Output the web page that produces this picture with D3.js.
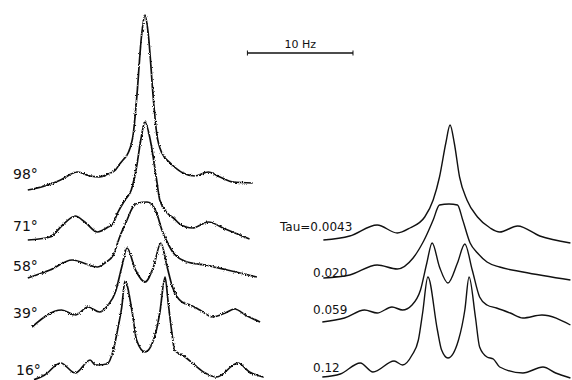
<!DOCTYPE html>
<html><head><meta charset="utf-8">
<script src="https://cdn.jsdelivr.net/npm/d3@7"></script>
<style>body{margin:0;background:#fff}</style>
</head><body>
<svg id="c" width="572" height="380"></svg>
<script>
// ---- data (x in Hz from band centre, intensity in arbitrary units) ----
const tempLabels = ["98°", "71°", "58°", "39°", "16°"];
const tauLabels = ["Tau=0.0043", "0.020", "0.059", "0.12"];
const tempOffsets = [190, 140, 102, 53, 0];
const tauOffsets = [140, 102, 58, 3];
const scaleBarHz = 10;

const exp98 = [[-11.1,0],[-9.5,4],[-8.0,10],[-6.4,18],[-5.2,14],[-4.3,13],[-3.5,16],[-2.8,20],[-2.4,26],[-2.0,31],[-1.6,37],[-1.1,57],[-0.8,90],[-0.3,157],[0,175],[0.3,157],[0.8,90],[1.1,57],[1.6,37],[2.4,27],[3.6,17],[4.7,14],[6.0,18],[7.1,13],[8.3,8],[10.2,7]];
const exp71 = [[-11.1,0],[-9.0,3],[-7.8,15],[-6.6,24],[-5.7,18],[-4.5,8],[-3.5,13],[-3.0,17],[-2.6,27],[-1.9,40],[-1.3,50],[-0.8,73],[-0.4,100],[0,118],[0.5,100],[1.1,60],[1.4,40],[2.1,27],[2.7,22],[3.3,16],[4.5,12],[6.0,18],[7.6,11],[9.9,1]];
const exp58 = [[-11.1,0],[-9.0,8],[-6.9,18],[-4.5,11],[-3.8,15],[-3.0,23],[-2.4,41],[-1.7,58],[-1.2,70],[-0.7,75],[0.2,76],[0.7,73],[1.1,65],[1.6,48],[2.1,36],[2.7,25],[4.0,16],[5.7,13],[7.8,8],[10.6,1]];
const exp39 = [[-10.7,0],[-7.9,17],[-6.6,12],[-5.4,20],[-4.3,15],[-3.5,22],[-2.8,35],[-2.2,60],[-1.7,79],[-0.9,57],[0,45],[0.8,60],[1.5,84],[2.1,60],[2.6,40],[3.5,25],[4.3,22],[5.2,17],[6.4,10],[7.6,14],[8.5,18],[9.5,12],[10.9,5]];
const exp16 = [[-10.6,0],[-9.5,5],[-8.0,17],[-6.6,7],[-5.2,20],[-4.7,15],[-3.6,16],[-3.0,30],[-2.6,50],[-2.2,73],[-1.9,99],[-1.2,67],[-0.8,40],[0,28],[0.9,43],[1.4,67],[1.9,103],[2.2,77],[2.6,43],[2.8,30],[3.8,23],[4.7,15],[5.7,7],[6.8,3],[8.8,17],[9.9,8],[11.2,3]];

const sim0043 = [[-11.9,0],[-9.4,4],[-6.8,15],[-4.9,7],[-3.7,12],[-2.3,23],[-1.5,40],[-0.9,63],[-0.3,97],[0.1,115],[0.5,97],[1.0,63],[1.7,40],[2.7,23],[3.9,12],[4.8,8],[6.5,14],[8.6,4],[11.5,-3]];
const sim020 = [[-11.9,0],[-9.4,3],[-6.8,13],[-4.9,9],[-3.4,20],[-2.4,37],[-1.5,58],[-0.9,73],[0,74],[0.8,73],[1.3,58],[2.0,35],[2.7,25],[3.6,16],[4.8,11],[7.0,6],[11.5,-2]];
const sim059 = [[-12.0,0],[-9.9,4],[-8.0,12],[-6.8,9],[-5.4,15],[-4.4,12],[-3.5,17],[-2.7,32],[-2.1,59],[-1.6,79],[-0.9,55],[-0.1,39],[0.8,59],[1.5,78],[2.2,52],[2.9,25],[3.6,17],[4.5,14],[5.8,9],[7.0,4],[8.8,7],[11.5,-3]];
const sim12 = [[-12.0,0],[-10.3,3],[-8.4,14],[-7.2,5],[-5.2,16],[-4.4,12],[-3.5,22],[-2.9,37],[-2.5,64],[-2.0,100],[-1.1,47],[-0.7,27],[-0.1,19],[0.9,37],[1.5,67],[1.9,100],[2.5,60],[2.9,30],[3.6,20],[4.2,18],[4.8,10],[7.0,4],[8.9,10],[10.1,4],[11.5,-1]];

const expSpectra = [exp98, exp71, exp58, exp39, exp16];
const simSpectra = [sim0043, sim020, sim059, sim12];

// ---- drawing ----
const svg = d3.select("#c");
const xL = d3.scaleLinear().domain([-12, 12]).range([18.3, 271.7]);
const xR = d3.scaleLinear().domain([-12, 12]).range([322.3, 575.7]);
const y = d3.scaleLinear().domain([0, 380]).range([380, 0]);

const defs = svg.append("defs");
const f = defs.append("filter").attr("id", "noise")
  .attr("filterUnits", "userSpaceOnUse").attr("x", 0).attr("y", 0).attr("width", 572).attr("height", 380);
f.append("feTurbulence").attr("type", "fractalNoise").attr("baseFrequency", 0.9)
  .attr("numOctaves", 1).attr("seed", 3).attr("result", "t");
f.append("feDisplacementMap").attr("in", "SourceGraphic").attr("in2", "t")
  .attr("scale", 3).attr("xChannelSelector", "R").attr("yChannelSelector", "G");

function mkLine(xs, off) {
  return d3.line().x(d => xs(d[0])).y(d => y(d[1] + off)).curve(d3.curveMonotoneX);
}

const gL = svg.append("g").attr("filter", "url(#noise)");
expSpectra.forEach((s, i) => {
  gL.append("path").attr("d", mkLine(xL, tempOffsets[i])(s))
    .attr("fill", "none").attr("stroke", "#111").attr("stroke-width", 1.7)
    .attr("stroke-linejoin", "round");
});
const gR = svg.append("g");
simSpectra.forEach((s, i) => {
  gR.append("path").attr("d", mkLine(xR, tauOffsets[i])(s))
    .attr("fill", "none").attr("stroke", "#111").attr("stroke-width", 1.4)
    .attr("stroke-linejoin", "round");
});

const font = "'DejaVu Sans', Verdana, sans-serif";
const tempLabelX = [13, 13, 13, 13, 16];
const tempLabelY = [179, 231, 271, 318, 375];
svg.append("g").selectAll("text").data(tempLabels).join("text")
  .attr("x", (d, i) => tempLabelX[i]).attr("y", (d, i) => tempLabelY[i])
  .attr("font-family", font).attr("font-size", 14).attr("fill", "#111").text(d => d);

const tauLabelX = [280, 313, 313, 313];
const tauLabelY = [231, 277, 314, 372];
svg.append("g").selectAll("text").data(tauLabels).join("text")
  .attr("x", (d, i) => tauLabelX[i]).attr("y", (d, i) => tauLabelY[i])
  .attr("font-family", font).attr("font-size", 12).attr("fill", "#111").text(d => d);

// scale bar (10 Hz), drawn with the same Hz scale
const bx0 = xL(9.7), bx1 = xL(9.7 + scaleBarHz), by = 53;
const sb = svg.append("g").attr("stroke", "#111").attr("stroke-width", 1.5);
sb.append("line").attr("x1", bx0).attr("x2", bx1).attr("y1", by).attr("y2", by);
sb.append("line").attr("x1", bx0).attr("x2", bx0).attr("y1", by - 2.5).attr("y2", by + 2.5).attr("stroke-width", 1);
sb.append("line").attr("x1", bx1).attr("x2", bx1).attr("y1", by - 2.5).attr("y2", by + 2.5).attr("stroke-width", 1);
svg.append("text").attr("x", (bx0 + bx1) / 2).attr("y", 48).attr("text-anchor", "middle")
  .attr("font-family", font).attr("font-size", 11).attr("fill", "#111").text(scaleBarHz + " Hz");
</script>
</body></html>
